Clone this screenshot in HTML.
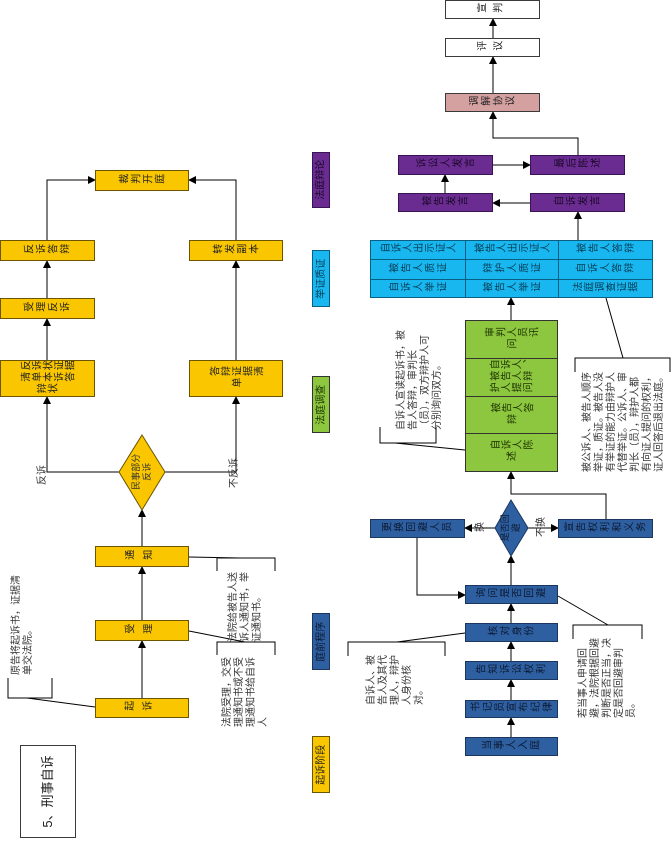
<!DOCTYPE html>
<html><head><meta charset="utf-8"><style>
body{margin:0;width:671px;height:841px;background:#fff;position:relative;overflow:hidden;font-family:"Liberation Sans","Noto Sans CJK SC",sans-serif}
.b{position:absolute;display:flex;align-items:center;justify-content:center;border:1px solid #3a3a3a;box-sizing:border-box;font-size:10px;color:#222}
.b>span{transform:rotate(-90deg);flex:none;text-align:center;line-height:1.15}
.b>span.v{writing-mode:vertical-rl;display:flex;align-items:center;justify-content:center;letter-spacing:2px}
.y{background:#f9c600;border-color:#6b5500}
.bl{background:#2e5fa0;border-color:#1b3760;color:#0d1a33}
.p{background:#6a2c91;border-color:#3a1355;color:#1a0828}
.c{background:#19b7f0;border-color:#0a5f85;color:#063a52}
.g{background:#8dc63f;border-color:#333;color:#1c3300}
.w{background:#fff}
.pk{background:#d4a0a0}
.n{position:absolute;display:flex;align-items:center;justify-content:center;font-size:10px;color:#333}
.n>span{transform:rotate(-90deg);flex:none;text-align:left;line-height:1.2}
svg{position:absolute;left:0;top:0}
</style></head><body>
<svg width="671" height="841">
<defs><marker id="a" markerWidth="8" markerHeight="8" refX="7" refY="4" orient="auto" markerUnits="userSpaceOnUse"><path d="M0,0L8,4L0,8z" fill="#000"/></marker></defs>
<g stroke="#000" stroke-width="1" fill="none">
<path d="M142 698V641" marker-end="url(#a)"/>
<path d="M142 620V567" marker-end="url(#a)"/>
<path d="M142 546V510" marker-end="url(#a)"/>
<path d="M119 472H47V397" marker-end="url(#a)"/>
<path d="M165 472H236V397" marker-end="url(#a)"/>
<path d="M47 360V319" marker-end="url(#a)"/>
<path d="M47 298V261" marker-end="url(#a)"/>
<path d="M47 240V180H95" marker-end="url(#a)"/>
<path d="M236 360V261" marker-end="url(#a)"/>
<path d="M236 240V180H189" marker-end="url(#a)"/>
<path d="M95 707L27 698M8 678V698H52V678"/>
<path d="M189 631L245 642M217 655V642H275V655"/>
<path d="M189 557L240 558M217 571V558H275V571"/>
<path d="M511 737V718" marker-end="url(#a)"/>
<path d="M511 700V680" marker-end="url(#a)"/>
<path d="M511 661V642" marker-end="url(#a)"/>
<path d="M511 623V604" marker-end="url(#a)"/>
<path d="M511 585V556" marker-end="url(#a)"/>
<path d="M495 528H465" marker-end="url(#a)"/>
<path d="M528 528H558" marker-end="url(#a)"/>
<path d="M417 538V595H465" marker-end="url(#a)"/>
<path d="M606 519V494H511V472" marker-end="url(#a)"/>
<path d="M511 320V298" marker-end="url(#a)"/>
<path d="M578 240V212" marker-end="url(#a)"/>
<path d="M530 203H493" marker-end="url(#a)"/>
<path d="M445 193V175" marker-end="url(#a)"/>
<path d="M493 165H530" marker-end="url(#a)"/>
<path d="M578 155V138H493V112" marker-end="url(#a)"/>
<path d="M493 93V57" marker-end="url(#a)"/>
<path d="M493 38V19" marker-end="url(#a)"/>
<path d="M465 450L395 443M380 427V443H436V427"/>
<path d="M606 298L623 358M575 372V358H670V372"/>
<path d="M465 633L397 642M348 656V642H445V656"/>
<path d="M558 596L608 625M573 639V625H642V639"/>
</g>
<path d="M142 435L165 472L142 510L119 472Z" fill="#f9c600" stroke="#6b5500"/>
<path d="M511 500L528 528L511 556L495 528Z" fill="#2e5fa0" stroke="#1b3760"/>
</svg>
<div class="b w" style="left:20px;top:745px;width:56px;height:93px;font-size:13px"><span style="width:93px">5、刑事自诉</span></div>
<div class="b y" style="left:95px;top:170px;width:94px;height:21px"><span class="v" style="width:21px;height:90px">裁判开庭</span></div>
<div class="b y" style="left:0;top:240px;width:95px;height:21px"><span class="v" style="width:21px;height:90px">反诉答辩</span></div>
<div class="b y" style="left:189px;top:240px;width:94px;height:21px"><span class="v" style="width:21px;height:90px">转发副本</span></div>
<div class="b y" style="left:0;top:298px;width:95px;height:21px"><span class="v" style="width:21px;height:90px">受理反诉</span></div>
<div class="b y" style="left:0;top:360px;width:95px;height:37px"><span class="v" style="width:37px;height:64px;letter-spacing:1px">反诉状证据清单本诉答辩状</span></div>
<div class="b y" style="left:189px;top:360px;width:94px;height:37px"><span class="v" style="width:37px;height:64px;letter-spacing:1px">答辩证据清单</span></div>
<div class="n" style="left:125px;top:450px;width:34px;height:44px;font-size:9px"><span style="width:44px;text-align:center">民事部分反诉</span></div>
<div class="n" style="left:36px;top:455px;width:14px;height:30px"><span style="width:30px">反诉</span></div>
<div class="n" style="left:228px;top:452px;width:14px;height:36px"><span style="width:36px">不反诉</span></div>
<div class="b y" style="left:95px;top:546px;width:94px;height:21px"><span class="v" style="width:21px;height:90px;letter-spacing:8px">通知</span></div>
<div class="b y" style="left:95px;top:620px;width:94px;height:21px"><span class="v" style="width:21px;height:90px;letter-spacing:8px">受理</span></div>
<div class="b y" style="left:95px;top:698px;width:94px;height:20px"><span class="v" style="width:20px;height:90px;letter-spacing:8px">起诉</span></div>
<div class="n" style="left:8px;top:575px;width:30px;height:100px"><span style="width:100px">原告将起诉书，证据清单交法院。</span></div>
<div class="n" style="left:218px;top:572px;width:55px;height:70px"><span style="width:70px">法院给被告人送诉人通知书，举证通知书。</span></div>
<div class="n" style="left:218px;top:655px;width:55px;height:72px"><span style="width:72px">法院受理，交受理通知书或不受理通知书给自诉人</span></div>
<div class="b p" style="left:312px;top:152px;width:18px;height:56px"><span style="width:56px">法庭辩论</span></div>
<div class="b c" style="left:312px;top:250px;width:18px;height:57px"><span style="width:57px">举证质证</span></div>
<div class="b g" style="left:312px;top:376px;width:18px;height:57px"><span style="width:57px">法庭调查</span></div>
<div class="b bl" style="left:312px;top:613px;width:18px;height:57px"><span style="width:57px">庭前程序</span></div>
<div class="b y" style="left:312px;top:736px;width:18px;height:57px"><span style="width:57px">起诉阶段</span></div>
<div class="b w" style="left:445px;top:0;width:95px;height:19px"><span class="v" style="width:19px;height:90px;letter-spacing:6px">宣判</span></div>
<div class="b w" style="left:445px;top:38px;width:95px;height:19px"><span class="v" style="width:19px;height:90px;letter-spacing:6px">评议</span></div>
<div class="b pk" style="left:445px;top:93px;width:95px;height:19px"><span class="v" style="width:19px;height:90px">调解协议</span></div>
<div class="b p" style="left:398px;top:155px;width:95px;height:20px"><span class="v" style="width:20px;height:90px">诉讼人发言</span></div>
<div class="b p" style="left:530px;top:155px;width:95px;height:20px"><span class="v" style="width:20px;height:90px">最后陈述</span></div>
<div class="b p" style="left:398px;top:193px;width:95px;height:19px"><span class="v" style="width:19px;height:90px">被告发言</span></div>
<div class="b p" style="left:530px;top:193px;width:95px;height:19px"><span class="v" style="width:19px;height:90px">自诉发言</span></div>
<div class="b c" style="left:370px;top:240px;width:96px;height:20px"><span class="v" style="width:20px;height:92px;letter-spacing:1px">自诉人出示证人</span></div>
<div class="b c" style="left:465px;top:240px;width:94px;height:20px"><span class="v" style="width:20px;height:90px;letter-spacing:1px">被告人出示证人</span></div>
<div class="b c" style="left:558px;top:240px;width:95px;height:20px"><span class="v" style="width:20px;height:90px">被告人答辩</span></div>
<div class="b c" style="left:370px;top:259px;width:96px;height:21px"><span class="v" style="width:21px;height:92px">被告人质证</span></div>
<div class="b c" style="left:465px;top:259px;width:94px;height:21px"><span class="v" style="width:21px;height:90px">辩护人质证</span></div>
<div class="b c" style="left:558px;top:259px;width:95px;height:21px"><span class="v" style="width:21px;height:90px">自诉人答辩</span></div>
<div class="b c" style="left:370px;top:279px;width:96px;height:19px"><span class="v" style="width:19px;height:92px">自诉人举证</span></div>
<div class="b c" style="left:465px;top:279px;width:94px;height:19px"><span class="v" style="width:19px;height:90px">被告人举证</span></div>
<div class="b c" style="left:558px;top:279px;width:95px;height:19px"><span class="v" style="width:19px;height:90px;letter-spacing:1px">法庭调查证据</span></div>
<div class="b g" style="left:465px;top:320px;width:93px;height:39px"><span class="v" style="width:39px;height:60px;letter-spacing:1px">审判人员讯问</span></div>
<div class="b g" style="left:465px;top:358px;width:93px;height:39px"><span class="v" style="width:39px;height:50px;letter-spacing:1px">自诉人、被告人辩护人提问</span></div>
<div class="b g" style="left:465px;top:396px;width:93px;height:38px"><span class="v" style="width:38px;height:45px;letter-spacing:1px">被告人答辩</span></div>
<div class="b g" style="left:465px;top:433px;width:93px;height:39px"><span class="v" style="width:39px;height:45px;letter-spacing:1px">自诉人陈述</span></div>
<div class="n" style="left:382px;top:330px;width:75px;height:100px"><span style="width:100px">自诉人宣读起诉书，被告人答辩，审判长（员），双方辩护人可分别询问双方。</span></div>
<div class="n" style="left:578px;top:372px;width:92px;height:100px"><span style="width:100px">被公诉人、被告人顺序举证，质证。被告人没有举证的能力由辩护人代替举证。公诉人、审判长（员），辩护人都有向证人提问的权利，证人回答后退出法庭。</span></div>
<div class="b bl" style="left:370px;top:519px;width:95px;height:19px"><span class="v" style="width:19px;height:90px">更换回避人员</span></div>
<div class="b bl" style="left:558px;top:519px;width:95px;height:19px"><span class="v" style="width:19px;height:90px">宣告权利和义务</span></div>
<div class="n" style="left:500px;top:512px;width:22px;height:32px;font-size:9px;color:#0d1a33"><span style="width:32px;text-align:center">是否回避</span></div>
<div class="n" style="left:474px;top:520px;width:14px;height:14px"><span>换</span></div>
<div class="n" style="left:535px;top:516px;width:14px;height:22px"><span>不换</span></div>
<div class="b bl" style="left:465px;top:585px;width:93px;height:19px"><span class="v" style="width:19px;height:88px">询问是否回避</span></div>
<div class="b bl" style="left:465px;top:623px;width:93px;height:19px"><span class="v" style="width:19px;height:88px">核对身份</span></div>
<div class="b bl" style="left:465px;top:661px;width:93px;height:19px"><span class="v" style="width:19px;height:88px">告知诉讼权利</span></div>
<div class="b bl" style="left:465px;top:700px;width:93px;height:18px"><span class="v" style="width:18px;height:88px">书记员宣布纪律</span></div>
<div class="b bl" style="left:465px;top:737px;width:93px;height:19px"><span class="v" style="width:19px;height:88px">当事人入庭</span></div>
<div class="n" style="left:350px;top:655px;width:92px;height:50px"><span style="width:50px">自诉人、被告人及其代理人，辩护人身份核对。</span></div>
<div class="n" style="left:575px;top:638px;width:66px;height:80px"><span style="width:80px">若当事人申请回避，法院根据回避判断是否正当，决定是否回避审判员。</span></div>
</body></html>
